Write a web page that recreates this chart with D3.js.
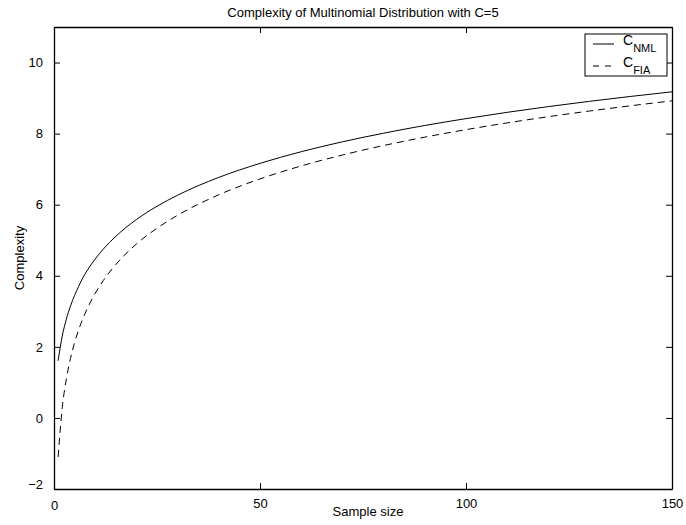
<!DOCTYPE html>
<html lang="en">
    <head>
        <meta charset="utf-8">
        <style>
        body { margin: 0; background: white; }
        text { font-family: "Liberation Sans", Arial, sans-serif; fill: black; }
        </style>
        <script src="https://d3js.org/d3.v7.min.js"></script>
    </head>
    <body>
    <script>
    // sample sizes and complexity values
    var sampleSize = [1, 2, 3, 4, 5, 6, 7, 8, 10, 12, 15, 20, 25, 30, 40, 50, 60, 70, 80, 90, 100, 110, 120, 130, 140, 150];
    var cNML = [1.609, 2.303, 2.780, 3.148, 3.449, 3.705, 3.943, 4.138, 4.473, 4.755, 5.110, 5.581, 5.956, 6.267, 6.768, 7.163,
                7.491, 7.769, 8.012, 8.229, 8.422, 8.599, 8.760, 8.909, 9.047, 9.176];
    var cFIA = [-1.099, 0.287, 1.098, 1.674, 2.120, 2.485, 2.793, 3.060, 3.506, 3.871, 4.317, 4.892, 5.339, 5.703, 6.279, 6.725,
                7.090, 7.398, 7.665, 7.901, 8.111, 8.302, 8.476, 8.636, 8.784, 8.922];
    var xTicks = [0, 50, 100, 150];
    var yTicks = [-2, 0, 2, 4, 6, 8, 10];

    var width = 686,
        height = 525;
    // plot box (window.top is read-only, so avoid that name)
    var boxL = 54, boxR = 672, boxT = 27, boxB = 489;

    var svg = d3.select("body").append("svg")
        .attr("width", width)
        .attr("height", height);

    var x = d3.scaleLinear().domain([0, 150]).range([boxL, boxR]);
    var y = d3.scaleLinear().domain([-2, 11]).range([boxB, boxT]);

    var tl = 6;
    // axes with inward ticks, mirrored on top / right
    var gx = svg.append("g")
        .attr("transform", "translate(0," + boxB + ")")
        .call(d3.axisBottom(x).tickValues(xTicks).tickSizeInner(-tl).tickSizeOuter(0).tickPadding(10));
    var gxt = svg.append("g")
        .attr("transform", "translate(0," + boxT + ")")
        .call(d3.axisTop(x).tickValues(xTicks).tickSizeInner(-tl).tickSizeOuter(0).tickFormat(""));
    var gy = svg.append("g")
        .attr("transform", "translate(" + boxL + ",0)")
        .call(d3.axisLeft(y).tickValues(yTicks).tickSizeInner(-tl).tickSizeOuter(0).tickPadding(11)
            .tickFormat(function(d) { return d < 0 ? "\u2212" + (-d) : d; }));
    var gyr = svg.append("g")
        .attr("transform", "translate(" + boxR + ",0)")
        .call(d3.axisRight(y).tickValues(yTicks).tickSizeInner(-tl).tickSizeOuter(0).tickFormat(""));

    [gx, gxt, gy, gyr].forEach(function(g) {
        g.select(".domain").attr("stroke", "black").attr("stroke-width", 1.3);
        g.selectAll(".tick line").attr("stroke", "black");
        g.selectAll(".tick text").style("font-size", "13px").attr("fill", "black");
    });
    // matlab nudges the corner labels apart
    gy.selectAll(".tick text").filter(function(d) { return d === -2; }).attr("dy", "-0.05em");
    gx.selectAll(".tick text").filter(function(d) { return d === 0; }).attr("dy", "0.85em");

    var line = d3.line()
        .x(function(d) { return x(d[0]); })
        .y(function(d) { return y(d[1]); })
        .curve(d3.curveMonotoneX);

    svg.append("path")
        .datum(sampleSize.map(function(n, i) { return [n, cNML[i]]; }))
        .attr("d", line)
        .attr("fill", "none").attr("stroke", "black").attr("stroke-width", 1);

    svg.append("path")
        .datum(sampleSize.map(function(n, i) { return [n, cFIA[i]]; }))
        .attr("d", line)
        .attr("fill", "none").attr("stroke", "black").attr("stroke-width", 1)
        .attr("stroke-dasharray", "7,5");

    // title and labels
    svg.append("text")
        .attr("x", (boxL + boxR) / 2).attr("y", 17)
        .attr("text-anchor", "middle")
        .style("font-size", "13px")
        .text("Complexity of Multinomial Distribution with C=5");

    svg.append("text")
        .attr("x", (boxL + boxR) / 2 + 5).attr("y", 516)
        .attr("text-anchor", "middle")
        .style("font-size", "13px")
        .text("Sample size");

    svg.append("text")
        .attr("transform", "translate(24," + ((boxT + boxB) / 2) + ") rotate(-90)")
        .attr("text-anchor", "middle")
        .style("font-size", "13px")
        .text("Complexity");

    // legend
    var legend = svg.append("g");
    legend.append("rect")
        .attr("x", 585).attr("y", 34)
        .attr("width", 82).attr("height", 42)
        .attr("fill", "white").attr("stroke", "black").attr("stroke-width", 1);

    var entries = [
        { name: "NML", dash: null, ly: 44 },
        { name: "FIA", dash: "6,6", ly: 66 }
    ];
    entries.forEach(function(e) {
        legend.append("line")
            .attr("x1", 593).attr("x2", 614)
            .attr("y1", e.ly).attr("y2", e.ly)
            .attr("stroke", "black").attr("stroke-width", 1)
            .attr("stroke-dasharray", e.dash);
        var t = legend.append("text")
            .attr("x", 623).attr("y", e.ly + 1)
            .style("font-size", "14px");
        t.append("tspan").text("C");
        t.append("tspan").attr("dy", 7).style("font-size", "11px").text(e.name);
    });
    </script>
    </body>
</html>
